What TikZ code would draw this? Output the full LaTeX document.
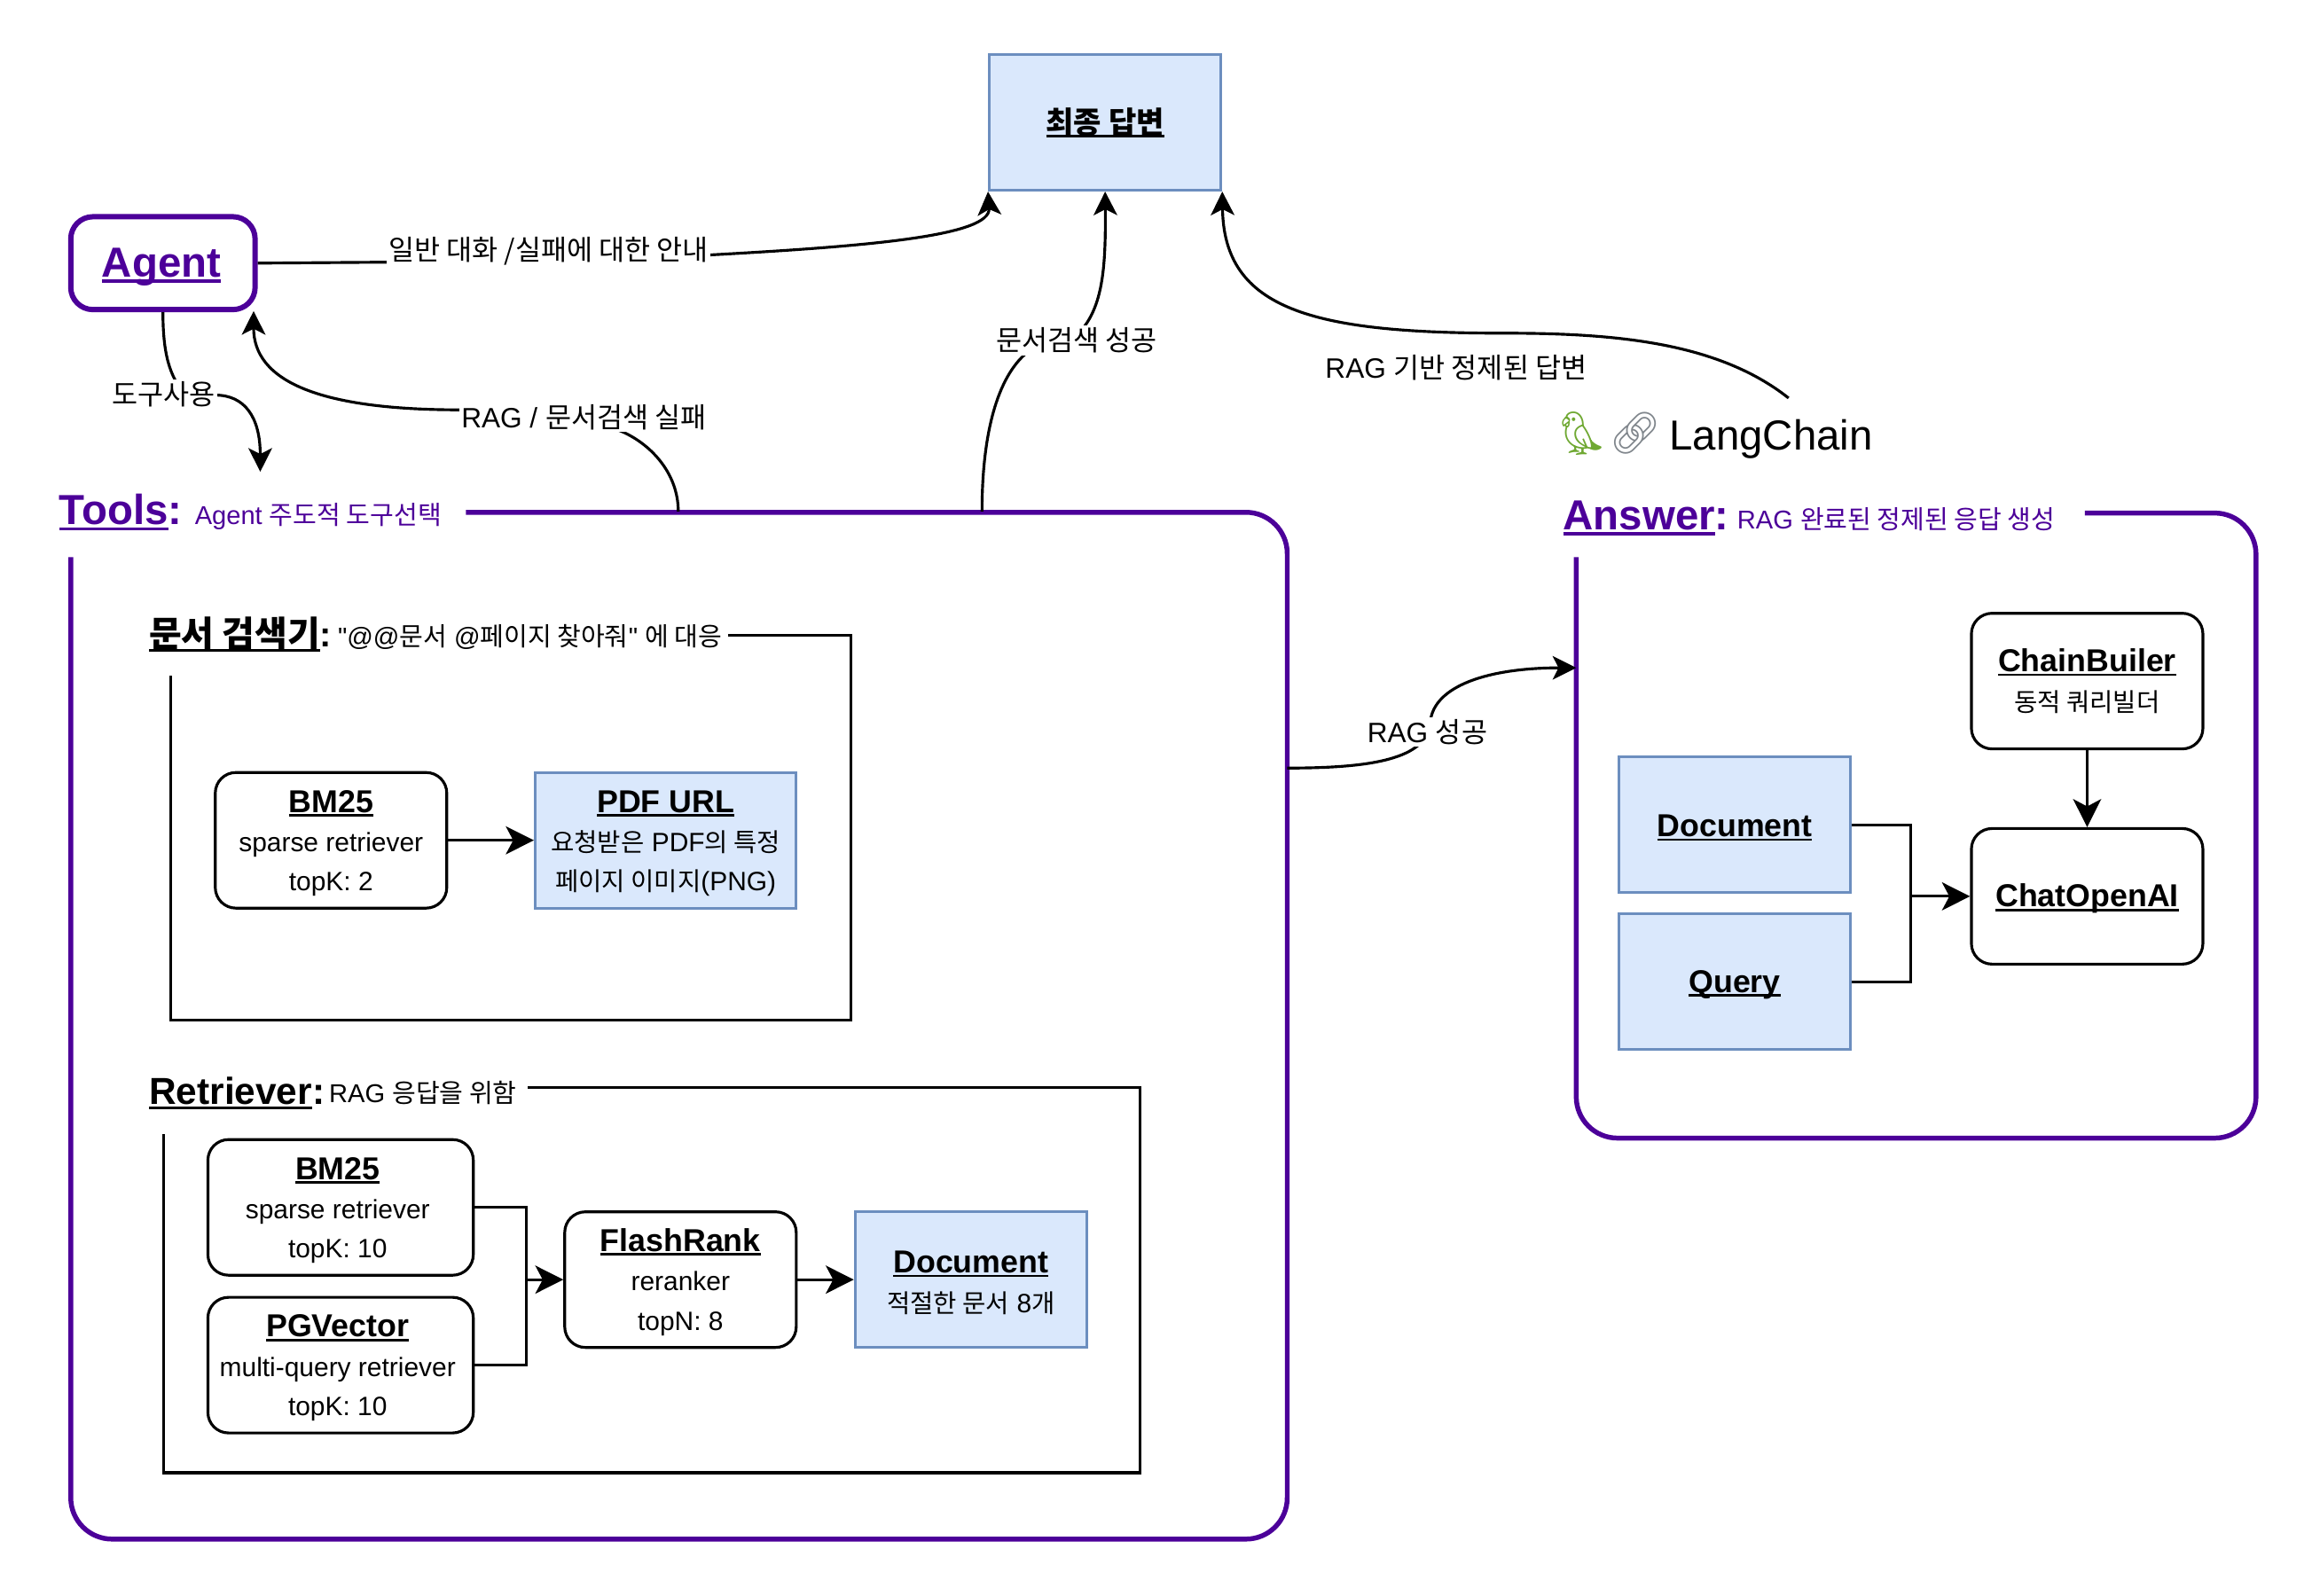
\documentclass[tikz,border=0pt]{standalone}
\usepackage{fontspec}
\setmainfont{Liberation Sans}
\newfontfamily\krfont{Noto Sans CJK KR}
\newfontfamily\qfont{Liberation Sans}
\newfontfamily\emojifont{Noto Emoji}
\usetikzlibrary{arrows.meta}
\definecolor{vio}{HTML}{4C0099}
\definecolor{bluefill}{HTML}{DAE8FC}
\definecolor{bluedraw}{HTML}{6C8EBF}
\definecolor{parrotcol}{HTML}{6FA832}
\definecolor{linkcol}{HTML}{80868C}
\newcommand\ko[1]{{\krfont #1}}
\newcommand\kob[1]{{\krfont\fontsize{17.2}{26.7}\selectfont #1}}
\newcommand\ulx[1]{\setbox0=\hbox{#1}\leavevmode\rlap{\rule[-0.13em]{\wd0}{0.075em}}\box0}
\newcommand\fs[2]{\fontsize{#1}{#2}\selectfont}
\newcommand\hdz[1]{{\fs{21.5}{26.7}\bfseries\ulx{#1}}}
\newcommand\hd[1]{\rule{0pt}{19pt}\hdz{#1}}
\newcommand\shl{\hspace*{-4pt}}
\newcommand\qq{{\qfont"}}
\tikzset{
  conn/.style={draw=black,line width=1.9pt,-{Stealth[length=16pt,width=16pt,inset=4pt]}},
  connb/.style={draw=black,line width=1.9pt,-{Stealth[length=19pt,width=19pt,inset=5pt]}},
  plain/.style={draw=black,line width=1.9pt},
  frameV/.style={draw=vio,line width=3.3pt,rounded corners=28pt},
  frameK/.style={draw=black,line width=1.9pt},
  rbox/.style={draw=black,line width=1.9pt,rounded corners=14pt,fill=white,align=center,inner sep=0pt,font=\fs{18}{26.7}},
  bbox/.style={draw=bluedraw,fill=bluefill,line width=1.9pt,align=center,inner sep=0pt,font=\fs{18}{26.7}},
  clabel/.style={fill=white,inner sep=1.5pt,font=\fs{19}{22}},
  title/.style={anchor=base west,inner sep=0pt,font=\fs{17.5}{22}},
}
\begin{document}
\begin{tikzpicture}[x=1pt,y=-1pt]
\useasboundingbox (0,0) rectangle (1568,1082.6);

% frames
\draw[frameV] (316,347.5) -- (873,347.5) -- (873,1044) -- (48,1044) -- (48,378);
\draw[frameV] (1414,348) -- (1530,348) -- (1530,772) -- (1069,772) -- (1069,378);
\draw[frameK] (494,431) -- (577,431) -- (577,692) -- (116,692) -- (116,458);
\draw[frameK] (358,737.5) -- (773,737.5) -- (773,999) -- (111,999) -- (111,769);

% frame titles
\node[title,text=vio] (ttools) at (40,356) {{\fs{28.5}{30}\bfseries\ulx{Tools}:}};
\node[title,text=vio] (ttools2) at (132,355.5) {Agent \ko{주도적 도구선택}};
\node[title,text=vio] (tans) at (1060,359.5) {{\fs{28.5}{30}\bfseries\ulx{Answer}:}};
\node[title,text=vio] (tans2) at (1178,358.5) {RAG \ko{완료된 정제된 응답 생성}};
\node[title] (tdoc) at (101,439) {{\fs{24}{30}\bfseries\ulx{\ko{문서 검색기}}:}};
\node[title] (tdoc2) at (229,438) {\qq@@\ko{문서} @\ko{페이지 찾아줘}\qq{} \ko{에 대응}};
\node[title] (tret) at (101,749) {{\fs{25.5}{30}\bfseries\ulx{Retriever}:}};
\node[title] (tret2) at (223,748) {RAG \ko{응답을 위함}};

% top nodes
\node[bbox,minimum width=157,minimum height=92] (final) at (749.5,83) {{\fs{20.5}{26}\bfseries\ulx{\ko{최종 답변}}}};
\node[draw=vio,line width=3.6pt,rounded corners=15pt,minimum width=125,minimum height=63,inner sep=0pt,text=vio] (agent) at (110.5,178.5) {{\fs{28.5}{30}\bfseries\hspace*{-2pt}\rule{0pt}{25pt}\ulx{Agent}}};

% langchain
\node[anchor=center,inner sep=0pt,text=parrotcol,font=\fs{29}{30}\emojifont] (parrot) at (1073,294) {🦜};
\node[anchor=center,inner sep=0pt,text=linkcol,font=\fs{28}{30}\emojifont] (chainlink) at (1109,294) {🔗};
\node[anchor=base west,inner sep=0pt,font=\fs{28.5}{30}] (lang) at (1132,305) {LangChain};

% doc search
\node[rbox,minimum width=157,minimum height=92] (bma) at (224.5,570) {\hd{BM25}\\sparse retriever\\topK: 2};
\node[bbox,minimum width=177,minimum height=92] (pdf) at (451.5,570) {\hd{PDF URL}\\\kob{요청받은} PDF\kob{의 특정}\\\kob{페이지 이미지}(PNG)};
\draw[connb] (bma) -- (pdf);

% retriever
\node[rbox,minimum width=180,minimum height=92] (bmb) at (231,819) {\shl\hd{BM25}\\\shl sparse retriever\\\shl topK: 10};
\node[rbox,minimum width=180,minimum height=92] (pgv) at (231,926) {\shl\hd{PGVector}\\\shl multi-query retriever\\\shl topK: 10};
\node[rbox,minimum width=157,minimum height=92] (flash) at (461.5,868) {\hd{FlashRank}\\reranker\\topN: 8};
\node[bbox,minimum width=157,minimum height=92] (docr) at (658.5,868) {\hd{Document}\\\kob{적절한 문서} 8\kob{개}};
\coordinate (jr) at (357,868);
\draw[plain] (bmb.east) -| (jr);
\draw[plain] (pgv.east) -| (jr);
\draw[connb] (jr) -- (flash.west);
\draw[connb] (flash) -- (docr);

% answer
\node[rbox,minimum width=157,minimum height=92] (chainb) at (1415.5,462) {\hdz{ChainBuiler}\\\kob{동적 쿼리빌더}};
\node[rbox,minimum width=157,minimum height=92] (chat) at (1415.5,608) {\hd{ChatOpenAI}};
\node[bbox,minimum width=157,minimum height=92] (doca) at (1176.5,559.5) {\hd{Document}};
\node[bbox,minimum width=157,minimum height=92] (query) at (1176.5,666) {\hd{Query}};
\coordinate (ja) at (1296,608);
\draw[plain] (doca.east) -| (ja);
\draw[plain] (query.east) -| (ja);
\draw[connb] (ja) -- (chat.west);
\draw[connb] (chainb) -- (chat);

% connectors with labels
\coordinate (fromAgent) at (agent.east);
\coordinate (toolsFail) at (460,347);
\coordinate (toolsOk) at (666,347);
\coordinate (toolsRight) at (873,521);
\coordinate (ansLeft) at (1069,453);
\coordinate (lcTop) at (1213,270);
\coordinate (toolsTop) at (176.5,320);
\coordinate (agentIn) at (172,211);

\draw[conn] (fromAgent) -- (372,177) -- (480,173) .. controls (590,167) and (672,160) .. (final.south west);
\node[clabel] (l1) at (372,170.5) {\ko{일반 대화 /실패에 대한 안내}};

\draw[conn] (toolsOk) .. controls (666,290) and (678,253) .. (698,238) -- (735,222) .. controls (748,205) and (750,180) .. (final.south);
\node[clabel] (l2) at (730,231) {\ko{문서검색 성공}};

\draw[conn] (lcTop) .. controls (1165,232) and (1095,226) .. (1020,226) .. controls (890,226) and (830,210) .. (final.south east);
\node[clabel] (l3) at (987.5,249.5) {RAG \ko{기반 정제된 답변}};

\draw[conn] (agent.south) .. controls (110.5,240) and (115,255) .. (125,267) -- (146,268) .. controls (166,268) and (176.5,283) .. (toolsTop);
\node[clabel] (l4) at (111,267.5) {\ko{도구사용}};

\draw[conn] (toolsFail) .. controls (460,320) and (440,300) .. (420,292) -- (312,278) .. controls (215,278) and (172,258) .. (agentIn);
\node[clabel] (l5) at (396,283) {RAG / \ko{문서검색 실패}};

\draw[conn] (toolsRight) .. controls (930,521) and (968,515) .. (970,490) .. controls (972,465) and (1010,453) .. (ansLeft);
\node[clabel] (l6) at (968,496.5) {RAG \ko{성공}};
\end{tikzpicture}
\end{document}
